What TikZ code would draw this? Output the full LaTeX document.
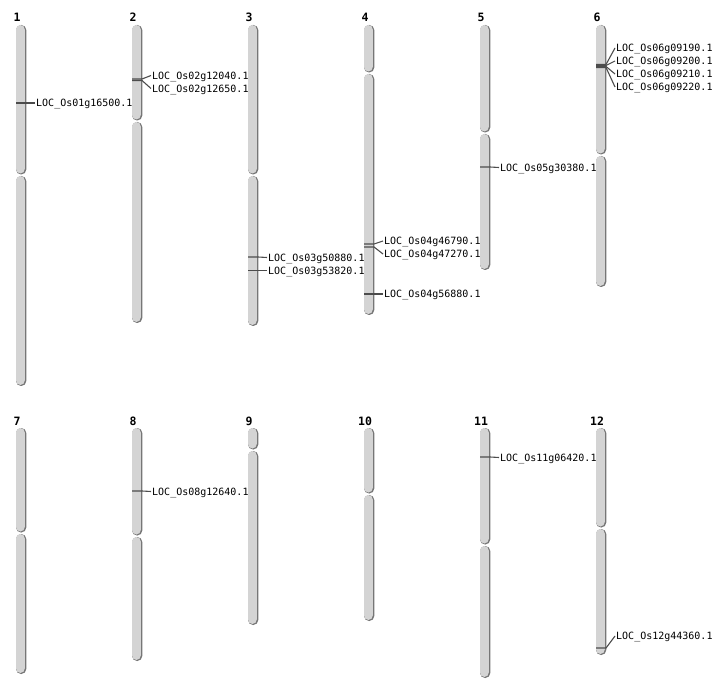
\documentclass[tikz,border=0pt]{standalone}
\usepackage{fontspec}
\setmainfont{DejaVu Sans}
\setmonofont{DejaVu Sans Mono}
\usetikzlibrary{calc}

\definecolor{chromo}{HTML}{D4D4D4}
\definecolor{chromoedge}{HTML}{767676}

\tikzset{
	arm/.style={fill=chromo,rounded corners=4.5pt},
	armshadow/.style={fill=chromoedge,rounded corners=5pt},
	chrtitle/.style={font=\ttfamily\bfseries\fontsize{11.5}{12}\selectfont,anchor=base,inner sep=0pt},
	gene/.style={font=\ttfamily\fontsize{10}{11}\selectfont,anchor=west,inner sep=1pt,text depth=0pt},
	tick/.style={draw=black!70,line width=1.1pt},
}

\begin{document}
\begin{tikzpicture}[x=1pt,y=-1pt]
	\useasboundingbox (0,0) rectangle (712,700);
	% chromosomes: number / centre / top / centromere / bottom
	\foreach \n/\c/\t/\m/\b in {1/21/25/175/386,2/137/25/121/323,3/253/25/175/326,4/369/25/73/315,5/485/25/133/270,6/601/25/155/287,7/21/428/533/674,8/137/428/536/661,9/253/428/450/625,10/369/428/494/621,11/485/428/545/678,12/601/428/528/655}{
		\node[chrtitle] (t\n) at (\c-4,\t-3) {\n};
		\path[armshadow] (\c-5,\t) rectangle (\c+5.3,\m-0.5);
		\path[arm] (\c-5,\t) rectangle (\c+3.8,\m-1.5);
		\path[armshadow] (\c-5,\m+1) rectangle (\c+5.3,\b);
		\path[arm] (\c-5,\m+1) rectangle (\c+3.8,\b-1);
	}
	% genes: id / centre / marker / label / name
	\foreach \k/\c/\y/\l/\g in {1a/21/103/103/01g16500,2a/137/79/75.5/02g12040,2b/137/80.5/88.5/02g12650,3a/253/257/257.5/03g50880,3b/253/270.5/270.5/03g53820,4a/369/244/241/04g46790,4b/369/247/254/04g47270,4c/369/294/294/04g56880,5a/485/167/167.5/05g30380,6a/601/64.5/48/06g09190,6b/601/65.5/61/06g09200,6c/601/66.5/74/06g09210,6d/601/67.5/87/06g09220,8a/137/491/491.5/08g12640,11a/485/457/457.5/11g06420,12a/601/648/636/12g44360}{
		\coordinate (m\k) at (\c-5,\y);
		\coordinate (e\k) at (\c+5,\y);
		\node[gene] (g\k) at (\c+14,\l) {LOC\_Os\g.1};
		\draw[tick] (m\k)--(e\k)--(g\k.west);
	}
\end{tikzpicture}
\end{document}
